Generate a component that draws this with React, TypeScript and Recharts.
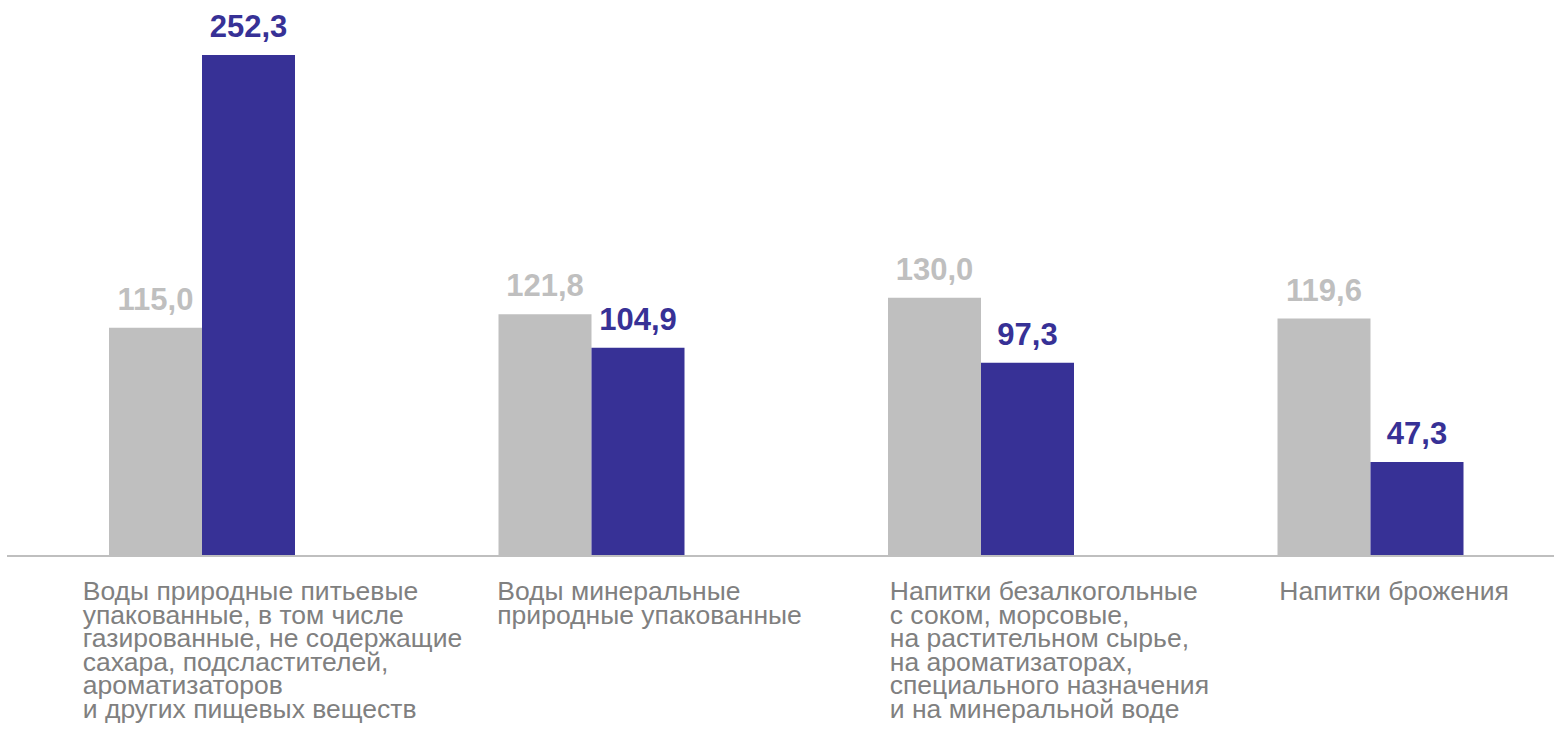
import React from "react";
import { BarChart, Bar, XAxis, YAxis, LabelList } from "recharts";

// категории (строки подписи оси X)
const categories: string[][] = [
  [
    "Воды природные питьевые",
    "упакованные, в том числе",
    "газированные, не содержащие",
    "сахара, подсластителей,",
    "ароматизаторов",
    "и других пищевых веществ",
  ],
  ["Воды минеральные", "природные упакованные"],
  [
    "Напитки безалкогольные",
    "с соком, морсовые,",
    "на растительном сырье,",
    "на ароматизаторах,",
    "специального назначения",
    "и на минеральной воде",
  ],
  ["Напитки брожения"],
];

const greyValues = [115.0, 121.8, 130.0, 119.6];
const blueValues = [252.3, 104.9, 97.3, 47.3];

const chartData = categories.map((lines, i) => ({
  name: lines.join(" "),
  idx: i,
  grey: greyValues[i],
  blue: blueValues[i],
}));

const FONT = "Arial, 'Liberation Sans', sans-serif";
const GREY = "#bfbfbf";
const BLUE = "#373196";
const TEXT = "#808080";

// сдвиг начала подписи относительно центра категории
const TICK_DX = [-119, -94, -91, -91];

const fmt = (v: unknown) => Number(v).toFixed(1).replace(".", ",");

function CategoryTick(props: any) {
  const { x, payload } = props;
  const i = payload.index as number;
  const lines = categories[i];
  return (
    <text
      x={x + TICK_DX[i]}
      y={600}
      textAnchor="start"
      fill={TEXT}
      fontFamily={FONT}
      fontSize={26.5}
    >
      {lines.map((ln, k) => (
        <tspan key={k} x={x + TICK_DX[i]} dy={k === 0 ? 0 : 23.5}>
          {ln}
        </tspan>
      ))}
    </text>
  );
}

export default function App() {
  return (
    <div
      style={{
        position: "absolute",
        left: 0,
        top: 0,
        width: 1554,
        height: 731,
        overflow: "hidden",
        background: "#fff",
      }}
    >
      <BarChart
        width={1566}
        height={731}
        data={chartData}
        margin={{ top: 55, right: 1, left: 7, bottom: 0 }}
        barGap={0}
      >
        <XAxis
          dataKey="name"
          height={175}
          axisLine={{ stroke: GREY, strokeWidth: 2 }}
          tickLine={false}
          interval={0}
          tick={<CategoryTick />}
        />
        <YAxis hide domain={[0, 252.3]} />
        <Bar dataKey="grey" fill={GREY} barSize={93} isAnimationActive={false}>
          <LabelList
            dataKey="grey"
            position="top"
            offset={18}
            formatter={fmt}
            fill={GREY}
            fontFamily={FONT}
            fontSize={31}
            fontWeight="bold"
          />
        </Bar>
        <Bar dataKey="blue" fill={BLUE} barSize={93} isAnimationActive={false}>
          <LabelList
            dataKey="blue"
            position="top"
            offset={18}
            formatter={fmt}
            fill={BLUE}
            fontFamily={FONT}
            fontSize={31}
            fontWeight="bold"
          />
        </Bar>
      </BarChart>
    </div>
  );
}
